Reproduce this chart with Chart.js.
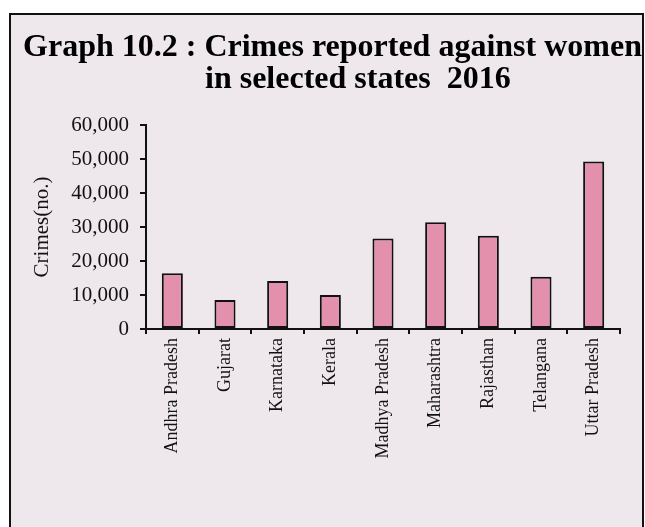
<!DOCTYPE html>
<html>
<head>
<meta charset="utf-8">
<script src="https://cdn.jsdelivr.net/npm/chart.js@4"></script>
<style>
  html, body { margin: 0; padding: 0; background: #ffffff; }
  canvas { display: block; }
</style>
</head>
<body>
<canvas id="c" width="645" height="527"></canvas>
<script>
const states = ["Andhra Pradesh", "Gujarat", "Karnataka", "Kerala", "Madhya Pradesh", "Maharashtra", "Rajasthan", "Telangana", "Uttar Pradesh"];
const crimes = [16362, 8532, 14131, 10034, 26604, 31388, 27422, 15374, 49262];
const yTicks = [0, 10000, 20000, 30000, 40000, 50000, 60000];
const titleLines = ["Graph 10.2 : Crimes reported against women", "in selected states  2016"];
const yAxisTitle = "Crimes(no.)";

const frame = {
  id: 'frame',
  beforeDraw(chart) {
    const ctx = chart.ctx;
    ctx.save();
    ctx.fillStyle = '#ffffff';
    ctx.fillRect(0, 0, chart.width, chart.height);
    ctx.fillStyle = '#EEE8EC';
    ctx.fillRect(10, 14, 633, 530);
    ctx.strokeStyle = '#111111';
    ctx.lineWidth = 2;
    ctx.strokeRect(10, 14, 633, 530);
    ctx.restore();
  },
  afterDraw(chart) {
    const ctx = chart.ctx;
    ctx.save();
    ctx.fillStyle = '#000000';
    ctx.font = 'bold 32px "Liberation Serif", "Times New Roman", serif';
    ctx.textBaseline = 'alphabetic';
    ctx.textAlign = 'center';
    ctx.fillText(titleLines[0], 332.5, 56);
    ctx.textAlign = 'left';
    ctx.fillText(titleLines[1], 205, 88);
    ctx.restore();
  }
};

new Chart(document.getElementById('c'), {
  type: 'bar',
  data: {
    labels: states,
    datasets: [{
      data: crimes,
      backgroundColor: '#E390AD',
      borderColor: '#111111',
      borderWidth: 2,
      borderSkipped: false,
      categoryPercentage: 1.0,
      barPercentage: 0.4
    }]
  },
  options: {
    responsive: false,
    animation: false,
    devicePixelRatio: 1,
    layout: { padding: { left: 24, top: 125, right: 25, bottom: 0 } },
    plugins: {
      legend: { display: false },
      title: { display: false },
      tooltip: { enabled: false }
    },
    scales: {
      x: {
        afterFit(scale) { scale.height = 198; },
        grid: {
          display: true,
          drawOnChartArea: false,
          drawTicks: true,
          tickLength: 5,
          color: '#111111',
          lineWidth: 2,
          offset: true
        },
        border: { display: true, color: '#111111', width: 2 },
        ticks: {
          autoSkip: false,
          minRotation: 90,
          maxRotation: 90,
          padding: 4,
          color: '#111111',
          font: { family: '"Liberation Serif", "Times New Roman", serif', size: 18 }
        }
      },
      y: {
        min: 0,
        max: 60000,
        afterFit(scale) { scale.width = 122; },
        afterBuildTicks(scale) { scale.ticks = yTicks.map(v => ({ value: v })); },
        grid: {
          display: true,
          drawOnChartArea: false,
          drawTicks: true,
          tickLength: 6,
          color: '#111111',
          lineWidth: 2
        },
        border: { display: true, color: '#111111', width: 2 },
        title: {
          display: true,
          text: yAxisTitle,
          color: '#111111',
          padding: { top: 6, bottom: 0 },
          font: { family: '"Liberation Serif", "Times New Roman", serif', size: 21, weight: 'normal' }
        },
        ticks: {
          padding: 11,
          color: '#111111',
          font: { family: '"Liberation Serif", "Times New Roman", serif', size: 21 },
          callback: (v) => Number(v).toLocaleString('en-US')
        }
      }
    }
  },
  plugins: [frame]
});
</script>
</body>
</html>
